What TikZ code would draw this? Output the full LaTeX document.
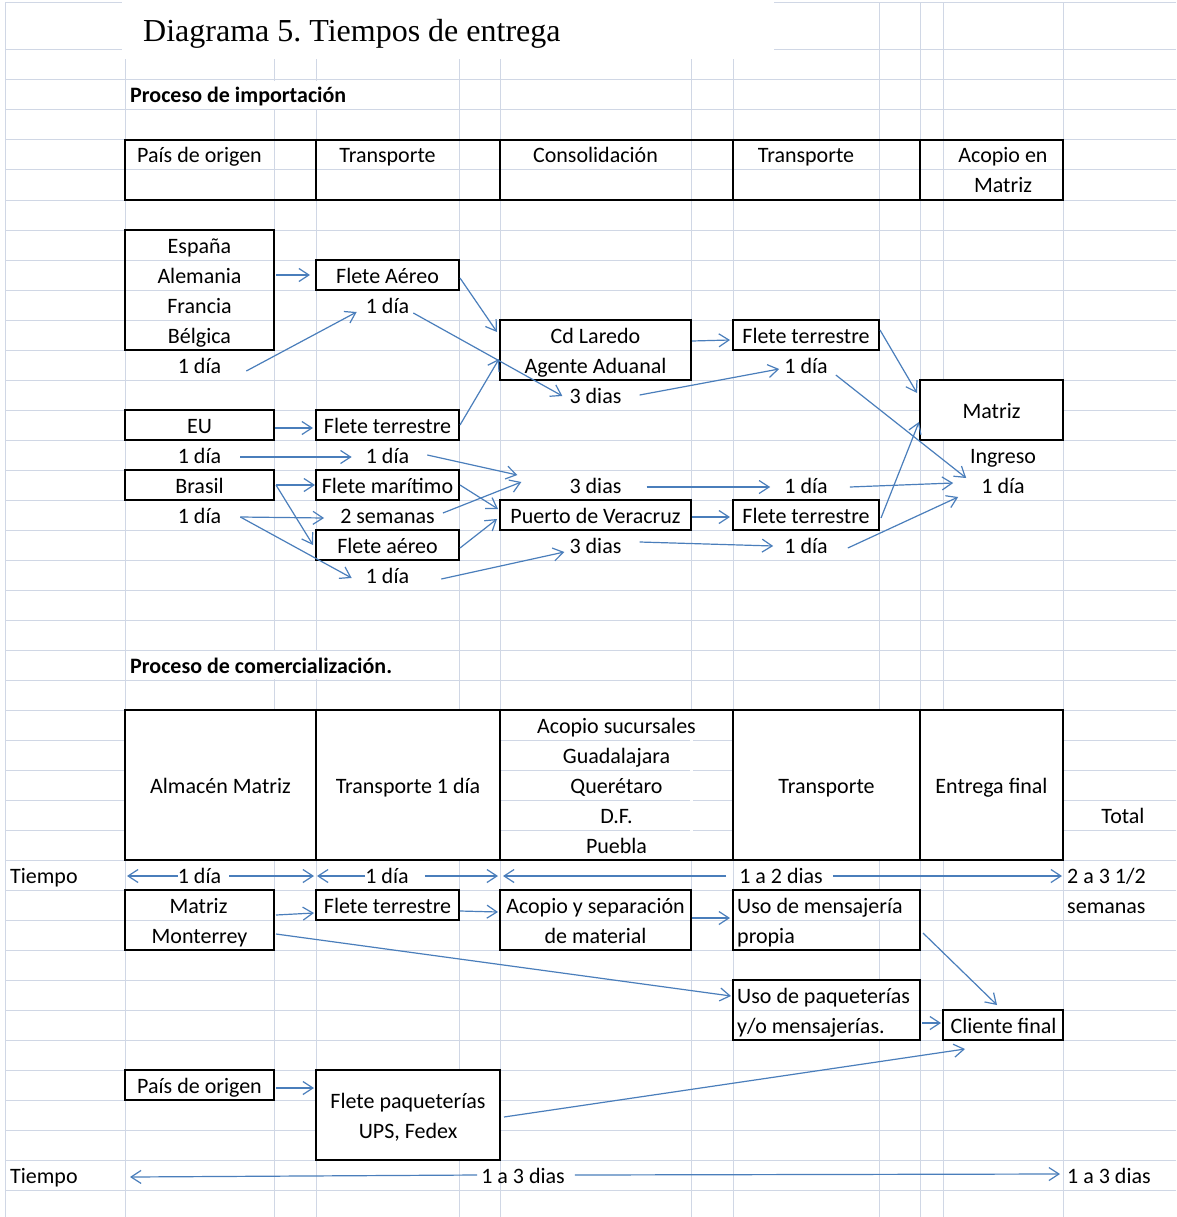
\documentclass[tikz,border=0pt]{standalone}
\usepackage{fontspec}
\setmainfont{Carlito}
\newfontfamily\titlefont{Liberation Serif}
\usetikzlibrary{arrows.meta}
\definecolor{gridblue}{RGB}{208,215,229}
\definecolor{arrowblue}{RGB}{74,126,187}
\tikzset{
  gridln/.style={gridblue, line width=1pt},
  cellbox/.style={draw=black, line width=1.4pt, inner sep=0pt, outer sep=0pt, anchor=north west},
  lbl/.style={inner sep=0pt, text height=18pt, text depth=2pt, font=\fontsize{22}{26}\selectfont},
  arr/.style={arrowblue, line width=1.2pt, -{Straight Barb[length=10pt,width=13pt]}},
}
\frenchspacing
\begin{document}
\begin{tikzpicture}[x=1pt,y=-1pt]
	\fill[white] (0,0) rectangle (1176,1217);
	\useasboundingbox (0,0) rectangle (1176,1217);
	% sheet grid
	\draw[gridln] (5,3)--(1176,3);
	\foreach \y in {50,80,...,1190} \draw[gridln] (5,\y)--(1176,\y);
	\foreach \x in {5,125,274,316,459,500,691,733,879,920,943,1063} \draw[gridln] (\x,3)--(\x,1217);
	\fill[white] (122,0) rectangle (774,59);
	\foreach \x/\y in {274/80,316/80,274/650,316/650,879/890,879/980,879/1010} \fill[white] (\x-1.5,\y+1) rectangle (\x+1.5,\y+29);
	\fill[white] (689.5,711) rectangle (692.5,859);
	\node[inner sep=0pt, anchor=base west, font=\titlefont\fontsize{32}{36}\selectfont] (title) at (143,42) {Diagrama 5. Tiempos de entrega};
	% importacion
	\node[lbl, anchor=west, font=\bfseries\fontsize{22}{26}\selectfont] (imp) at (130,95) {Proceso de importación};
	\node[cellbox, minimum width=191, minimum height=60] (hpo) at (125,140) {};
	\node[cellbox, minimum width=184, minimum height=60] (htr) at (316,140) {};
	\node[cellbox, minimum width=233, minimum height=60] (hcon) at (500,140) {};
	\node[cellbox, minimum width=187, minimum height=60] (htrb) at (733,140) {};
	\node[cellbox, minimum width=143, minimum height=60] (hacm) at (920,140) {};
	\node[lbl] (tpo) at (199.5,155) {País de origen};
	\node[lbl] (ttr) at (387.5,155) {Transporte};
	\node[lbl] (tcon) at (595.5,155) {Consolidación};
	\node[lbl] (ttrb) at (806,155) {Transporte};
	\node[lbl] (tacm) at (1003,155) {Acopio en};
	\node[lbl] (tacmb) at (1003,185) {Matriz};
	\node[cellbox, minimum width=149, minimum height=120] (esp) at (125,230) {};
	\node[lbl] (espa) at (199.5,245) {España};
	\node[lbl] (alem) at (199.5,275) {Alemania};
	\node[lbl] (fran) at (199.5,305) {Francia};
	\node[lbl] (belg) at (199.5,335) {Bélgica};
	\node[lbl] (da) at (199.5,365) {1 día};
	\node[cellbox, minimum width=143, minimum height=30] (fae) at (316,260) {};
	\node[lbl] (tfae) at (387.5,275) {Flete Aéreo};
	\node[lbl] (db) at (387.5,305) {1 día};
	\node[cellbox, minimum width=191, minimum height=60] (cdl) at (500,320) {};
	\node[lbl] (tcdl) at (595.5,335) {Cd Laredo};
	\node[lbl] (tage) at (595.5,365) {Agente Aduanal};
	\node[lbl] (dc) at (595.5,395) {3 dias};
	\node[cellbox, minimum width=146, minimum height=30] (fta) at (733,320) {};
	\node[lbl] (tfta) at (806,335) {Flete terrestre};
	\node[lbl] (dd) at (806,365) {1 día};
	\node[cellbox, minimum width=143, minimum height=60, fill=white] (mat) at (920,380) {};
	\node[lbl] (tmat) at (991.5,410) {Matriz};
	\node[lbl] (ing) at (1003,455) {Ingreso};
	\node[lbl] (de) at (1003,485) {1 día};
	\node[cellbox, minimum width=149, minimum height=30] (eu) at (125,410) {};
	\node[lbl] (teu) at (199.5,425) {EU};
	\node[lbl] (df) at (199.5,455) {1 día};
	\node[cellbox, minimum width=143, minimum height=30] (ftb) at (316,410) {};
	\node[lbl] (tftb) at (387.5,425) {Flete terrestre};
	\node[lbl] (dg) at (387.5,455) {1 día};
	\node[cellbox, minimum width=149, minimum height=30] (bra) at (125,470) {};
	\node[lbl] (tbra) at (199.5,485) {Brasil};
	\node[lbl] (dh) at (199.5,515) {1 día};
	\node[cellbox, minimum width=143, minimum height=30] (fma) at (316,470) {};
	\node[lbl] (tfma) at (387.5,485) {Flete marítimo};
	\node[lbl] (di) at (387.5,515) {2 semanas};
	\node[cellbox, minimum width=143, minimum height=30] (fab) at (316,530) {};
	\node[lbl] (tfab) at (387.5,545) {Flete aéreo};
	\node[lbl] (dj) at (387.5,575) {1 día};
	\node[lbl] (dk) at (595.5,485) {3 dias};
	\node[cellbox, minimum width=191, minimum height=30] (pver) at (500,500) {};
	\node[lbl] (tpver) at (595.5,515) {Puerto de Veracruz};
	\node[lbl] (dl) at (595.5,545) {3 dias};
	\node[lbl] (dm) at (806,485) {1 día};
	\node[cellbox, minimum width=146, minimum height=30] (ftc) at (733,500) {};
	\node[lbl] (tftc) at (806,515) {Flete terrestre};
	\node[lbl] (dn) at (806,545) {1 día};
	\draw[arr] ([xshift=2pt]esp.east |- fae.west)--([xshift=-6pt]fae.west);
	\draw[arr] ([xshift=25pt,yshift=-6pt]da.east)--([xshift=-9pt,yshift=-7pt]db.west);
	\draw[arr] ([xshift=1pt,yshift=-3pt]fae.east)--([xshift=-3pt,yshift=-12pt]cdl.north west);
	\draw[arr] ([xshift=4pt,yshift=-8pt]db.east)--([xshift=-7pt,yshift=-1pt]dc.west);
	\draw[arr] ([xshift=1pt,yshift=-3pt]eu.east)--([xshift=-3pt,yshift=-3pt]ftb.west);
	\draw[arr] ([xshift=1pt]ftb.east)--([xshift=-1pt,yshift=-9pt]cdl.west);
	\draw[arr] ([xshift=19pt,yshift=-2pt]df.east)--([xshift=-14pt,yshift=-2pt]dg.west);
	\draw[arr] ([xshift=18pt]dg.east)--([xshift=-52pt,yshift=10pt]dk.west);
	\draw[arr] ([xshift=2pt]bra.east)--([xshift=-1pt]fma.west);
	\draw[arr] ([xshift=2pt]bra.east)--([xshift=-3pt]fab.west);
	\draw[arr] ([xshift=19pt,yshift=-2pt]dh.east)--([xshift=-16pt,yshift=-3pt]di.west);
	\draw[arr] ([xshift=19pt,yshift=-2pt]dh.east)--([xshift=-14pt,yshift=-3pt]dj.west);
	\draw[arr] ([xshift=8pt,yshift=2pt]di.east)--([xshift=-48pt,yshift=3pt]dk.west);
	\draw[arr] ([xshift=1pt]fma.east)--([xshift=-2pt,yshift=6pt]pver.west);
	\draw[arr] ([xshift=1pt,yshift=-3pt]fab.east)--([xshift=-3pt,yshift=-4pt]pver.west);
	\draw[arr] ([xshift=32pt,yshift=-4pt]dj.east)--([xshift=-5pt,yshift=-7pt]dl.west);
	\draw[arr] ([xshift=1pt,yshift=9pt]cdl.east)--([xshift=-3pt,yshift=-5pt]fta.west);
	\draw[arr] ([xshift=18pt]dc.east)--([xshift=-5pt,yshift=-4pt]dd.west);
	\draw[arr] ([xshift=1pt,yshift=5pt]fta.east)--([xshift=-3pt,yshift=-13pt]mat.north west);
	\draw[arr] ([xshift=8pt,yshift=-10pt]dd.east)--([xshift=-15pt,yshift=7pt]de.west);
	\draw[arr] ([xshift=25pt,yshift=-2pt]dk.east)--([xshift=-14pt,yshift=-2pt]dm.west);
	\draw[arr] ([xshift=22pt,yshift=-2pt]dm.east)--([xshift=-28pt,yshift=2pt]de.west);
	\draw[arr] ([xshift=1pt,yshift=-2pt]pver.east)--([xshift=-3pt,yshift=-2pt]ftc.west);
	\draw[arr] ([xshift=2pt,yshift=-3pt]ftc.east)--([xshift=-1pt,yshift=18pt]mat.south west);
	\draw[arr] ([xshift=18pt,yshift=3pt]dl.east)--([xshift=-11pt,yshift=-1pt]dn.west);
	\draw[arr] ([xshift=20pt,yshift=-3pt]dn.east)--([xshift=-23pt,yshift=-12pt]de.west);
	% comercializacion
	\node[lbl, anchor=west, font=\bfseries\fontsize{22}{26}\selectfont] (com) at (130,665) {Proceso de comercialización.};
	\node[cellbox, minimum width=191, minimum height=150, fill=white] (alm) at (125,710) {};
	\node[cellbox, minimum width=184, minimum height=150, fill=white] (trd) at (316,710) {};
	\node[cellbox, minimum width=233, minimum height=150] (acs) at (500,710) {};
	\node[cellbox, minimum width=187, minimum height=150, fill=white] (trc) at (733,710) {};
	\node[cellbox, minimum width=143, minimum height=150, fill=white] (ent) at (920,710) {};
	\node[lbl] (talm) at (220.5,785) {Almacén Matriz};
	\node[lbl] (ttrd) at (408,785) {Transporte 1 día};
	\node[lbl] (tacs) at (616.5,725) {Acopio sucursales};
	\node[lbl] (tgua) at (616.5,755) {Guadalajara};
	\node[lbl] (tque) at (616.5,785) {Querétaro};
	\node[lbl] (tdf) at (616.5,815) {D.F.};
	\node[lbl] (tpue) at (616.5,845) {Puebla};
	\node[lbl] (ttrc) at (826.5,785) {Transporte};
	\node[lbl] (tent) at (991.5,785) {Entrega final};
	\node[lbl] (tot) at (1123,815) {Total};
	\node[lbl, anchor=west] (tiea) at (10,875) {Tiempo};
	\node[lbl] (ta) at (199.5,875) {1 día};
	\node[lbl] (tb) at (387,875) {1 día};
	\node[lbl] (tc) at (781,875) {1 a 2 dias};
	\node[lbl, anchor=west] (tsum) at (1067,875) {2 a 3 1/2};
	\node[lbl, anchor=west] (tsem) at (1067,905) {semanas};
	\coordinate (tal) at (127,876);
	\coordinate (tar) at (314,876);
	\coordinate (tbl) at (317,876);
	\coordinate (tbr) at (498,876);
	\coordinate (tcl) at (503,876);
	\coordinate (tcr) at (1062,876);
	\draw[arr] ([yshift=-1pt]ta.west)--(tal);
	\draw[arr] ([xshift=8pt,yshift=-1pt]ta.east)--(tar);
	\draw[arr] ([yshift=-1pt]tb.west)--(tbl);
	\draw[arr] ([xshift=16pt,yshift=-1pt]tb.east)--(tbr);
	\draw[arr] ([xshift=-13pt,yshift=-1pt]tc.west)--(tcl);
	\draw[arr] ([xshift=10pt,yshift=-1pt]tc.east)--(tcr);
	\node[cellbox, minimum width=149, minimum height=60] (mmo) at (125,890) {};
	\node[lbl] (tmat2) at (198.5,905) {Matriz};
	\node[lbl] (tmon) at (199.5,935) {Monterrey};
	\node[cellbox, minimum width=143, minimum height=30] (ftd) at (316,890) {};
	\node[lbl] (tftd) at (387.5,905) {Flete terrestre};
	\node[cellbox, minimum width=191, minimum height=60] (ays) at (500,890) {};
	\node[lbl] (tays) at (595.5,905) {Acopio y separación};
	\node[lbl] (tmatl) at (595.5,935) {de material};
	\node[cellbox, minimum width=187, minimum height=60] (umen) at (733,890) {};
	\node[lbl, anchor=west] (tumen) at (737,905) {Uso de mensajería};
	\node[lbl, anchor=west] (tprop) at (737,935) {propia};
	\node[cellbox, minimum width=187, minimum height=60] (upaq) at (733,980) {};
	\node[lbl, anchor=west] (tupaq) at (737,995) {Uso de paqueterías};
	\node[lbl, anchor=west] (tymen) at (737,1025) {y/o mensajerías.};
	\node[cellbox, minimum width=120, minimum height=30] (cfin) at (943,1010) {};
	\node[lbl] (tcfin) at (1003.5,1025) {Cliente final};
	\node[cellbox, minimum width=149, minimum height=30] (porig) at (125,1070) {};
	\node[lbl] (tporig) at (199.5,1085) {País de origen};
	\node[cellbox, minimum width=184, minimum height=90, fill=white] (fpaq) at (316,1070) {};
	\node[lbl] (tfpaq) at (408,1100) {Flete paqueterías};
	\node[lbl] (tups) at (408,1130) {UPS, Fedex};
	\draw[arr] ([xshift=2pt,yshift=5pt]mmo.east)--([xshift=-2pt,yshift=-8pt]ftd.west);
	\draw[arr] ([xshift=1pt,yshift=-6pt]ftd.east)--([xshift=-2pt,yshift=8pt]ays.west);
	\draw[arr] ([xshift=1pt,yshift=2pt]ays.east)--([xshift=-3pt,yshift=2pt]umen.west);
	\draw[arr] ([xshift=3pt,yshift=-13pt]umen.east)--([xshift=-6pt,yshift=5pt]cfin.north);
	\draw[arr] ([xshift=2pt,yshift=-14pt]mmo.east)--([xshift=-2pt,yshift=14pt]upaq.west);
	\draw[arr] ([xshift=2pt,yshift=-13pt]upaq.east)--([xshift=-2pt,yshift=2pt]cfin.west);
	\draw[arr] ([xshift=4pt,yshift=-2pt]fpaq.east)--([xshift=22pt,yshift=-9pt]cfin.south west);
	\draw[arr] ([xshift=2pt,yshift=-3pt]porig.east)--([xshift=-2pt,yshift=-18pt]fpaq.north west);
	\node[lbl, anchor=west] (tieb) at (10,1175) {Tiempo};
	\node[lbl] (td) at (523,1175) {1 a 3 dias};
	\node[lbl, anchor=west] (ttd) at (1067,1175) {1 a 3 dias};
	\coordinate (tdl) at (130,1177);
	\coordinate (tdr) at (1060,1174);
	\draw[arr] ([xshift=-4pt]td.west)--(tdl);
	\draw[arr] ([xshift=10pt]td.east)--(tdr);
\end{tikzpicture}
\end{document}
